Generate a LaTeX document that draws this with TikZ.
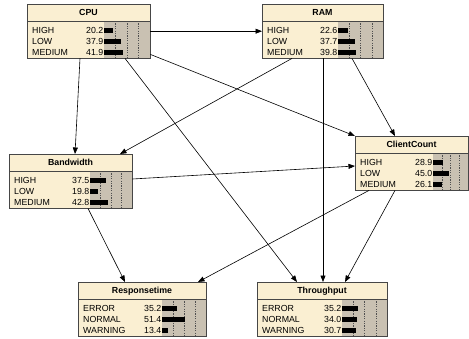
\documentclass[tikz,border=0pt]{standalone}
\usepackage{fontspec}
\setmainfont{Liberation Sans}
\usetikzlibrary{arrows.meta,calc}
\definecolor{creamcol}{RGB}{250,239,210}
\definecolor{barcol}{RGB}{201,193,178}
\definecolor{bordercol}{RGB}{70,70,70}
\definecolor{dashcol}{RGB}{80,80,80}
\tikzset{
  bnbox/.style={fill=creamcol, draw=none, inner sep=0pt, minimum height=54pt, anchor=north west},
  lbl/.style={inner sep=0pt, font=\fontsize{8.8}{10}\selectfont, text height=6.2pt, text depth=0pt},
  ttl/.style={inner sep=0pt, font=\fontsize{8.8}{10}\selectfont\bfseries, text height=6.2pt, text depth=0pt},
  arr/.style={draw=black, line width=0.6pt, -{Triangle[length=6.5pt,width=5pt]}},
  frame/.style={draw=bordercol, line width=0.6pt},
}
\newcommand{\bnnode}[7]{%
  \node[bnbox, minimum width={(#4-#2)*1pt}] (#1) at (#2,#3) {};
  \fill[barcol] (#5,{#3+17}) rectangle (#4,{#3+54});
  \foreach \f in {0.25,0.5,0.75}
    \draw[dashcol, line width=0.4pt, dash pattern=on 1.2pt off 1.2pt] ({#5+\f*(#4-#5)},{#3+17}) -- ({#5+\f*(#4-#5)},{#3+54});
  \draw[frame] (#2,{#3+17}) -- (#4,{#3+17});
  \draw[frame] (#1.north west) rectangle (#1.south east);
  \node[ttl] (#1-t) at ({(#2+#4)/2},{#3+8.5}) {#6};
  \foreach \lab/\val [count=\i] in {#7} {
    \node[lbl, anchor=west] (#1-l\i) at ({#2+5},{#3+15.5+\i*11}) {\lab};
    \node[lbl, anchor=east] (#1-v\i) at ({#5-0.5},{#3+15.5+\i*11}) {\val};
    \fill[black] (#5,{#3+15.5+\i*11-2.6}) rectangle ({#5+\val/100*(#4-#5)},{#3+15.5+\i*11+2.6});
  }
}
\begin{document}
\begin{tikzpicture}[x=1pt,y=-1pt]
\useasboundingbox (0,0) rectangle (469,338);
\fill[white] (0,0) rectangle (469,338);
\clip (0,0) rectangle (469,338);
\bnnode{CPU}{27}{4}{150}{104}{CPU}{HIGH/20.2,LOW/37.9,MEDIUM/41.9}
\bnnode{RAM}{262}{4}{383}{338}{RAM}{HIGH/22.6,LOW/37.7,MEDIUM/39.8}
\bnnode{Bandwidth}{9}{154}{132}{90}{Bandwidth}{HIGH/37.5,LOW/19.8,MEDIUM/42.8}
\bnnode{ClientCount}{355}{136}{468}{433}{ClientCount}{HIGH/28.9,LOW/45.0,MEDIUM/26.1}
\bnnode{Responsetime}{78}{282}{206}{162}{Responsetime}{ERROR/35.2,NORMAL/51.4,WARNING/13.4}
\bnnode{Throughput}{257}{282}{387}{342}{Throughput}{ERROR/35.2,NORMAL/34.0,WARNING/30.7}
% connectors
\draw[arr] (CPU.east) -- (RAM.west);
\draw[arr] ([xshift=53pt]CPU.south west) -- ([xshift=66pt]Bandwidth.north west);
\draw[arr] ([yshift=4pt]CPU.south east) -- (ClientCount.north west);
\draw[arr] ([xshift=98pt]CPU.south west) -- ([xshift=40pt]Throughput.north west);
\draw[arr] ([xshift=30pt]RAM.south west) -- ([xshift=111pt]Bandwidth.north west);
\draw[arr] ([xshift=90pt]RAM.south west) -- ([xshift=40pt]ClientCount.north west);
\draw[arr] ([xshift=61pt]RAM.south west) -- ([xshift=66pt]Throughput.north west);
\draw[arr] ([yshift=-25pt]Bandwidth.north east) -- ([yshift=-30pt]ClientCount.north west);
\draw[arr] ([xshift=79pt]Bandwidth.south west) -- ([xshift=47pt]Responsetime.north west);
\draw[arr] ([xshift=14pt]ClientCount.south west) -- ([xshift=120pt]Responsetime.north west);
\draw[arr] ([xshift=40pt]ClientCount.south west) -- ([xshift=88pt]Throughput.north west);
\end{tikzpicture}
\end{document}
